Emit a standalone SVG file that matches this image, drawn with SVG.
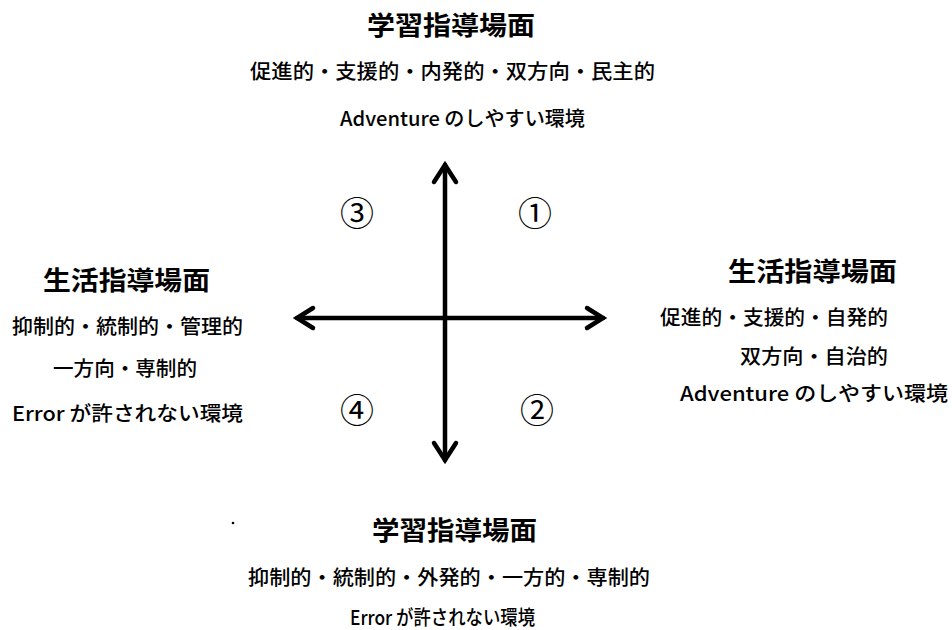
<svg xmlns="http://www.w3.org/2000/svg" width="952" height="630" viewBox="0 0 952 630">
<style>
text{font-family:"Noto Sans CJK JP","Noto Sans CJK SC",sans-serif;fill:#000}
.t{font-size:26px;font-weight:700}
.b{font-size:20px;font-weight:500}
.n{font-size:34px;font-weight:400;text-anchor:middle}
.ax{fill:none;stroke:#000;stroke-width:4.5;stroke-linecap:round;stroke-linejoin:miter}
</style>
<rect width="952" height="630" fill="#fff"/>
<g id="connectors">
<path class="ax" d="M445,165 V460 M297,318 H603"/>
<path class="ax" d="M434,182 L445,165 L456,182"/>
<path class="ax" d="M434,443 L445,460 L456,443"/>
<path class="ax" d="M313,308 L297,318 L313,328"/>
<path class="ax" d="M587,308 L603,318 L587,328"/>
</g>
<g id="top">
<text class="t" x="367" y="35" textLength="168" lengthAdjust="spacingAndGlyphs">学習指導場面</text>
<text class="b" x="250" y="79" textLength="405" lengthAdjust="spacingAndGlyphs">促進的・支援的・内発的・双方向・民主的</text>
<text class="b" x="340" y="126" textLength="245" lengthAdjust="spacingAndGlyphs">Adventure のしやすい環境</text>
</g>
<g id="left">
<text class="t" x="43" y="290" textLength="167" lengthAdjust="spacingAndGlyphs">生活指導場面</text>
<text class="b" x="12" y="334" textLength="231" lengthAdjust="spacingAndGlyphs">抑制的・統制的・管理的</text>
<text class="b" x="53" y="376" textLength="144" lengthAdjust="spacingAndGlyphs">一方向・専制的</text>
<text class="b" x="12" y="421" textLength="231" lengthAdjust="spacingAndGlyphs">Error が許されない環境</text>
</g>
<g id="right">
<text class="t" x="728" y="281" textLength="169" lengthAdjust="spacingAndGlyphs">生活指導場面</text>
<text class="b" x="660" y="325" textLength="228" lengthAdjust="spacingAndGlyphs">促進的・支援的・自発的</text>
<text class="b" x="740" y="364" textLength="148" lengthAdjust="spacingAndGlyphs">双方向・自治的</text>
<text class="b" x="680" y="401" textLength="268" lengthAdjust="spacingAndGlyphs">Adventure のしやすい環境</text>
</g>
<g id="bottom">
<text class="t" x="372" y="540" textLength="165" lengthAdjust="spacingAndGlyphs">学習指導場面</text>
<text class="b" x="248" y="585" textLength="402" lengthAdjust="spacingAndGlyphs">抑制的・統制的・外発的・一方的・専制的</text>
<text class="b" x="350" y="625" textLength="185" lengthAdjust="spacingAndGlyphs">Error が許されない環境</text>
<circle cx="233" cy="523" r="1.3" fill="#000"/>
</g>
<g id="q1"><text class="n" x="535" y="226">①</text></g>
<g id="q2"><text class="n" x="537" y="423">②</text></g>
<g id="q3"><text class="n" x="357" y="226">③</text></g>
<g id="q4"><text class="n" x="357" y="423">④</text></g>
</svg>
